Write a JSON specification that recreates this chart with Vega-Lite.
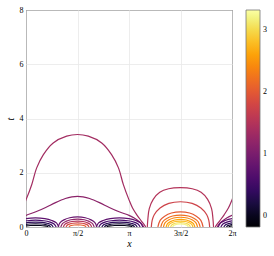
{
"$schema": "https://vega.github.io/schema/vega-lite/v6.json",
"width": 206, "height": 217,
"autosize": "none",
"padding": {"left": 26, "top": 10, "right": 42, "bottom": 29},
"background": "white",
"config": {"font": "Liberation Serif", "view": {"stroke": "black", "strokeWidth": 1}},
"data": {"values": [
{"c":"C1","v":1.35,"x":-0.51,"t":0},{"c":"C1","v":1.35,"x":-0.48,"t":0.06},{"c":"C1","v":1.35,"x":-0.38,"t":0.22},{"c":"C1","v":1.35,"x":-0.24,"t":0.45},{"c":"C1","v":1.35,"x":-0.11,"t":0.7},{"c":"C1","v":1.35,"x":0,"t":1.0},{"c":"C1","v":1.35,"x":0.174,"t":1.56},{"c":"C1","v":1.35,"x":0.326,"t":2.18},{"c":"C1","v":1.35,"x":0.53,"t":2.67},{"c":"C1","v":1.35,"x":0.83,"t":3.1},{"c":"C1","v":1.35,"x":1.24,"t":3.35},{"c":"C1","v":1.35,"x":1.571,"t":3.41},{"c":"C1","v":1.35,"x":1.9,"t":3.35},{"c":"C1","v":1.35,"x":2.31,"t":3.1},{"c":"C1","v":1.35,"x":2.61,"t":2.67},{"c":"C1","v":1.35,"x":2.82,"t":2.18},{"c":"C1","v":1.35,"x":2.97,"t":1.56},{"c":"C1","v":1.35,"x":3.142,"t":1.0},{"c":"C1","v":1.35,"x":3.25,"t":0.7},{"c":"C1","v":1.35,"x":3.38,"t":0.45},{"c":"C1","v":1.35,"x":3.52,"t":0.22},{"c":"C1","v":1.35,"x":3.62,"t":0.06},{"c":"C1","v":1.35,"x":3.65,"t":0},
{"c":"C1b","v":1.35,"x":5.773,"t":0},{"c":"C1b","v":1.35,"x":5.803,"t":0.06},{"c":"C1b","v":1.35,"x":5.903,"t":0.22},{"c":"C1b","v":1.35,"x":6.043,"t":0.45},{"c":"C1b","v":1.35,"x":6.173,"t":0.7},{"c":"C1b","v":1.35,"x":6.283,"t":1.0},{"c":"C1b","v":1.35,"x":6.457,"t":1.56},{"c":"C1b","v":1.35,"x":6.609,"t":2.18},
{"c":"C2","v":1.15,"x":-0.45,"t":0},{"c":"C2","v":1.15,"x":-0.41,"t":0.08},{"c":"C2","v":1.15,"x":-0.31,"t":0.2},{"c":"C2","v":1.15,"x":-0.16,"t":0.33},{"c":"C2","v":1.15,"x":0,"t":0.43},{"c":"C2","v":1.15,"x":0.3,"t":0.56},{"c":"C2","v":1.15,"x":0.6,"t":0.72},{"c":"C2","v":1.15,"x":0.9,"t":0.9},{"c":"C2","v":1.15,"x":1.2,"t":1.05},{"c":"C2","v":1.15,"x":1.4,"t":1.11},{"c":"C2","v":1.15,"x":1.571,"t":1.13},{"c":"C2","v":1.15,"x":1.74,"t":1.11},{"c":"C2","v":1.15,"x":1.94,"t":1.05},{"c":"C2","v":1.15,"x":2.24,"t":0.9},{"c":"C2","v":1.15,"x":2.54,"t":0.72},{"c":"C2","v":1.15,"x":2.84,"t":0.56},{"c":"C2","v":1.15,"x":3.142,"t":0.43},{"c":"C2","v":1.15,"x":3.3,"t":0.33},{"c":"C2","v":1.15,"x":3.45,"t":0.2},{"c":"C2","v":1.15,"x":3.55,"t":0.08},{"c":"C2","v":1.15,"x":3.59,"t":0},
{"c":"C2b","v":1.15,"x":5.833,"t":0},{"c":"C2b","v":1.15,"x":5.873,"t":0.08},{"c":"C2b","v":1.15,"x":5.973,"t":0.2},{"c":"C2b","v":1.15,"x":6.123,"t":0.33},{"c":"C2b","v":1.15,"x":6.283,"t":0.43},{"c":"C2b","v":1.15,"x":6.583,"t":0.56},
{"c":"K1a","v":0.75,"x":-0.42,"t":0},{"c":"K1a","v":0.75,"x":-0.349,"t":0.15},{"c":"K1a","v":0.75,"x":-0.207,"t":0.24},{"c":"K1a","v":0.75,"x":0.006,"t":0.31},{"c":"K1a","v":0.75,"x":0.29,"t":0.34},{"c":"K1a","v":0.75,"x":0.574,"t":0.31},{"c":"K1a","v":0.75,"x":0.787,"t":0.24},{"c":"K1a","v":0.75,"x":0.929,"t":0.15},{"c":"K1a","v":0.75,"x":1.0,"t":0},
{"c":"K1b","v":0.75,"x":3.562,"t":0},{"c":"K1b","v":0.75,"x":3.491,"t":0.15},{"c":"K1b","v":0.75,"x":3.349,"t":0.24},{"c":"K1b","v":0.75,"x":3.136,"t":0.31},{"c":"K1b","v":0.75,"x":2.852,"t":0.34},{"c":"K1b","v":0.75,"x":2.568,"t":0.31},{"c":"K1b","v":0.75,"x":2.355,"t":0.24},{"c":"K1b","v":0.75,"x":2.213,"t":0.15},{"c":"K1b","v":0.75,"x":2.142,"t":0},
{"c":"K1c","v":0.75,"x":5.863,"t":0},{"c":"K1c","v":0.75,"x":5.934,"t":0.15},{"c":"K1c","v":0.75,"x":6.076,"t":0.24},{"c":"K1c","v":0.75,"x":6.289,"t":0.31},{"c":"K1c","v":0.75,"x":6.573,"t":0.34},{"c":"K1c","v":0.75,"x":6.857,"t":0.31},
{"c":"K2a","v":0.55,"x":-0.34,"t":0},{"c":"K2a","v":0.55,"x":-0.277,"t":0.11},{"c":"K2a","v":0.55,"x":-0.151,"t":0.18},{"c":"K2a","v":0.55,"x":0.038,"t":0.23},{"c":"K2a","v":0.55,"x":0.29,"t":0.25},{"c":"K2a","v":0.55,"x":0.542,"t":0.23},{"c":"K2a","v":0.55,"x":0.731,"t":0.18},{"c":"K2a","v":0.55,"x":0.857,"t":0.11},{"c":"K2a","v":0.55,"x":0.92,"t":0},
{"c":"K2b","v":0.55,"x":3.482,"t":0},{"c":"K2b","v":0.55,"x":3.419,"t":0.11},{"c":"K2b","v":0.55,"x":3.293,"t":0.18},{"c":"K2b","v":0.55,"x":3.104,"t":0.23},{"c":"K2b","v":0.55,"x":2.852,"t":0.25},{"c":"K2b","v":0.55,"x":2.6,"t":0.23},{"c":"K2b","v":0.55,"x":2.411,"t":0.18},{"c":"K2b","v":0.55,"x":2.285,"t":0.11},{"c":"K2b","v":0.55,"x":2.222,"t":0},
{"c":"K2c","v":0.55,"x":5.943,"t":0},{"c":"K2c","v":0.55,"x":6.006,"t":0.11},{"c":"K2c","v":0.55,"x":6.132,"t":0.18},{"c":"K2c","v":0.55,"x":6.321,"t":0.23},{"c":"K2c","v":0.55,"x":6.573,"t":0.25},
{"c":"K3a","v":0.35,"x":-0.25,"t":0},{"c":"K3a","v":0.35,"x":-0.196,"t":0.08},{"c":"K3a","v":0.35,"x":-0.088,"t":0.13},{"c":"K3a","v":0.35,"x":0.074,"t":0.17},{"c":"K3a","v":0.35,"x":0.29,"t":0.18},{"c":"K3a","v":0.35,"x":0.506,"t":0.17},{"c":"K3a","v":0.35,"x":0.668,"t":0.13},{"c":"K3a","v":0.35,"x":0.776,"t":0.08},{"c":"K3a","v":0.35,"x":0.83,"t":0},
{"c":"K3b","v":0.35,"x":3.392,"t":0},{"c":"K3b","v":0.35,"x":3.338,"t":0.08},{"c":"K3b","v":0.35,"x":3.23,"t":0.13},{"c":"K3b","v":0.35,"x":3.068,"t":0.17},{"c":"K3b","v":0.35,"x":2.852,"t":0.18},{"c":"K3b","v":0.35,"x":2.636,"t":0.17},{"c":"K3b","v":0.35,"x":2.474,"t":0.13},{"c":"K3b","v":0.35,"x":2.366,"t":0.08},{"c":"K3b","v":0.35,"x":2.312,"t":0},
{"c":"K3c","v":0.35,"x":6.033,"t":0},{"c":"K3c","v":0.35,"x":6.087,"t":0.08},{"c":"K3c","v":0.35,"x":6.195,"t":0.13},{"c":"K3c","v":0.35,"x":6.357,"t":0.17},{"c":"K3c","v":0.35,"x":6.573,"t":0.18},
{"c":"K4a","v":0.15,"x":-0.17,"t":0},{"c":"K4a","v":0.15,"x":-0.124,"t":0.05},{"c":"K4a","v":0.15,"x":-0.032,"t":0.085},{"c":"K4a","v":0.15,"x":0.106,"t":0.11},{"c":"K4a","v":0.15,"x":0.29,"t":0.12},{"c":"K4a","v":0.15,"x":0.474,"t":0.11},{"c":"K4a","v":0.15,"x":0.612,"t":0.085},{"c":"K4a","v":0.15,"x":0.704,"t":0.05},{"c":"K4a","v":0.15,"x":0.75,"t":0},
{"c":"K4b","v":0.15,"x":3.312,"t":0},{"c":"K4b","v":0.15,"x":3.266,"t":0.05},{"c":"K4b","v":0.15,"x":3.174,"t":0.085},{"c":"K4b","v":0.15,"x":3.036,"t":0.11},{"c":"K4b","v":0.15,"x":2.852,"t":0.12},{"c":"K4b","v":0.15,"x":2.668,"t":0.11},{"c":"K4b","v":0.15,"x":2.53,"t":0.085},{"c":"K4b","v":0.15,"x":2.438,"t":0.05},{"c":"K4b","v":0.15,"x":2.392,"t":0},
{"c":"K4c","v":0.15,"x":6.113,"t":0},{"c":"K4c","v":0.15,"x":6.159,"t":0.05},{"c":"K4c","v":0.15,"x":6.251,"t":0.085},{"c":"K4c","v":0.15,"x":6.389,"t":0.11},{"c":"K4c","v":0.15,"x":6.573,"t":0.12},
{"c":"K5a","v":-0.05,"x":-0.1,"t":0},{"c":"K5a","v":-0.05,"x":-0.061,"t":0.026},{"c":"K5a","v":-0.05,"x":0.017,"t":0.043},{"c":"K5a","v":-0.05,"x":0.134,"t":0.055},{"c":"K5a","v":-0.05,"x":0.29,"t":0.06},{"c":"K5a","v":-0.05,"x":0.446,"t":0.055},{"c":"K5a","v":-0.05,"x":0.563,"t":0.043},{"c":"K5a","v":-0.05,"x":0.641,"t":0.026},{"c":"K5a","v":-0.05,"x":0.68,"t":0},
{"c":"K5b","v":-0.05,"x":3.242,"t":0},{"c":"K5b","v":-0.05,"x":3.203,"t":0.026},{"c":"K5b","v":-0.05,"x":3.125,"t":0.043},{"c":"K5b","v":-0.05,"x":3.008,"t":0.055},{"c":"K5b","v":-0.05,"x":2.852,"t":0.06},{"c":"K5b","v":-0.05,"x":2.696,"t":0.055},{"c":"K5b","v":-0.05,"x":2.579,"t":0.043},{"c":"K5b","v":-0.05,"x":2.501,"t":0.026},{"c":"K5b","v":-0.05,"x":2.462,"t":0},
{"c":"K5c","v":-0.05,"x":6.183,"t":0},{"c":"K5c","v":-0.05,"x":6.222,"t":0.026},{"c":"K5c","v":-0.05,"x":6.3,"t":0.043},{"c":"K5c","v":-0.05,"x":6.417,"t":0.055},{"c":"K5c","v":-0.05,"x":6.573,"t":0.06},
{"c":"P1","v":0.85,"x":0.981,"t":0},{"c":"P1","v":0.85,"x":1.04,"t":0.163},{"c":"P1","v":0.85,"x":1.158,"t":0.263},{"c":"P1","v":0.85,"x":1.335,"t":0.34},{"c":"P1","v":0.85,"x":1.571,"t":0.37},{"c":"P1","v":0.85,"x":1.807,"t":0.34},{"c":"P1","v":0.85,"x":1.984,"t":0.263},{"c":"P1","v":0.85,"x":2.102,"t":0.163},{"c":"P1","v":0.85,"x":2.161,"t":0},
{"c":"P2","v":1.2,"x":1.061,"t":0},{"c":"P2","v":1.2,"x":1.112,"t":0.128},{"c":"P2","v":1.2,"x":1.214,"t":0.206},{"c":"P2","v":1.2,"x":1.367,"t":0.267},{"c":"P2","v":1.2,"x":1.571,"t":0.29},{"c":"P2","v":1.2,"x":1.775,"t":0.267},{"c":"P2","v":1.2,"x":1.928,"t":0.206},{"c":"P2","v":1.2,"x":2.03,"t":0.128},{"c":"P2","v":1.2,"x":2.081,"t":0},
{"c":"P3","v":1.5,"x":1.141,"t":0},{"c":"P3","v":1.5,"x":1.184,"t":0.097},{"c":"P3","v":1.5,"x":1.27,"t":0.156},{"c":"P3","v":1.5,"x":1.399,"t":0.202},{"c":"P3","v":1.5,"x":1.571,"t":0.22},{"c":"P3","v":1.5,"x":1.743,"t":0.202},{"c":"P3","v":1.5,"x":1.872,"t":0.156},{"c":"P3","v":1.5,"x":1.958,"t":0.097},{"c":"P3","v":1.5,"x":2.001,"t":0},
{"c":"P4","v":1.8,"x":1.221,"t":0},{"c":"P4","v":1.8,"x":1.256,"t":0.066},{"c":"P4","v":1.8,"x":1.326,"t":0.107},{"c":"P4","v":1.8,"x":1.431,"t":0.138},{"c":"P4","v":1.8,"x":1.571,"t":0.15},{"c":"P4","v":1.8,"x":1.711,"t":0.138},{"c":"P4","v":1.8,"x":1.816,"t":0.107},{"c":"P4","v":1.8,"x":1.886,"t":0.066},{"c":"P4","v":1.8,"x":1.921,"t":0},
{"c":"P5","v":2.05,"x":1.311,"t":0},{"c":"P5","v":2.05,"x":1.337,"t":0.035},{"c":"P5","v":2.05,"x":1.389,"t":0.057},{"c":"P5","v":2.05,"x":1.467,"t":0.074},{"c":"P5","v":2.05,"x":1.571,"t":0.08},{"c":"P5","v":2.05,"x":1.675,"t":0.074},{"c":"P5","v":2.05,"x":1.753,"t":0.057},{"c":"P5","v":2.05,"x":1.805,"t":0.035},{"c":"P5","v":2.05,"x":1.831,"t":0},
{"c":"D1","v":1.5,"x":3.7,"t":0},{"c":"D1","v":1.5,"x":3.72,"t":0.33},{"c":"D1","v":1.5,"x":3.76,"t":0.68},{"c":"D1","v":1.5,"x":3.88,"t":1.02},{"c":"D1","v":1.5,"x":4.08,"t":1.28},{"c":"D1","v":1.5,"x":4.35,"t":1.41},{"c":"D1","v":1.5,"x":4.712,"t":1.45},{"c":"D1","v":1.5,"x":5.07,"t":1.41},{"c":"D1","v":1.5,"x":5.34,"t":1.28},{"c":"D1","v":1.5,"x":5.54,"t":1.02},{"c":"D1","v":1.5,"x":5.66,"t":0.68},{"c":"D1","v":1.5,"x":5.7,"t":0.33},{"c":"D1","v":1.5,"x":5.72,"t":0},
{"c":"D2","v":1.75,"x":3.822,"t":0},{"c":"D2","v":1.75,"x":3.85,"t":0.25},{"c":"D2","v":1.75,"x":3.911,"t":0.45},{"c":"D2","v":1.75,"x":4.089,"t":0.7},{"c":"D2","v":1.75,"x":4.356,"t":0.87},{"c":"D2","v":1.75,"x":4.712,"t":0.93},{"c":"D2","v":1.75,"x":5.068,"t":0.87},{"c":"D2","v":1.75,"x":5.335,"t":0.7},{"c":"D2","v":1.75,"x":5.513,"t":0.45},{"c":"D2","v":1.75,"x":5.574,"t":0.25},{"c":"D2","v":1.75,"x":5.602,"t":0},
{"c":"D3","v":2.0,"x":4.022,"t":0},{"c":"D3","v":2.0,"x":4.091,"t":0.246},{"c":"D3","v":2.0,"x":4.229,"t":0.398},{"c":"D3","v":2.0,"x":4.436,"t":0.515},{"c":"D3","v":2.0,"x":4.712,"t":0.56},{"c":"D3","v":2.0,"x":4.988,"t":0.515},{"c":"D3","v":2.0,"x":5.195,"t":0.398},{"c":"D3","v":2.0,"x":5.333,"t":0.246},{"c":"D3","v":2.0,"x":5.402,"t":0},
{"c":"D4","v":2.2,"x":4.112,"t":0},{"c":"D4","v":2.2,"x":4.172,"t":0.194},{"c":"D4","v":2.2,"x":4.292,"t":0.312},{"c":"D4","v":2.2,"x":4.472,"t":0.405},{"c":"D4","v":2.2,"x":4.712,"t":0.44},{"c":"D4","v":2.2,"x":4.952,"t":0.405},{"c":"D4","v":2.2,"x":5.132,"t":0.312},{"c":"D4","v":2.2,"x":5.252,"t":0.194},{"c":"D4","v":2.2,"x":5.312,"t":0},
{"c":"D5","v":2.4,"x":4.192,"t":0},{"c":"D5","v":2.4,"x":4.244,"t":0.158},{"c":"D5","v":2.4,"x":4.348,"t":0.256},{"c":"D5","v":2.4,"x":4.504,"t":0.331},{"c":"D5","v":2.4,"x":4.712,"t":0.36},{"c":"D5","v":2.4,"x":4.92,"t":0.331},{"c":"D5","v":2.4,"x":5.076,"t":0.256},{"c":"D5","v":2.4,"x":5.18,"t":0.158},{"c":"D5","v":2.4,"x":5.232,"t":0},
{"c":"D6","v":2.6,"x":4.272,"t":0},{"c":"D6","v":2.6,"x":4.316,"t":0.123},{"c":"D6","v":2.6,"x":4.404,"t":0.199},{"c":"D6","v":2.6,"x":4.536,"t":0.258},{"c":"D6","v":2.6,"x":4.712,"t":0.28},{"c":"D6","v":2.6,"x":4.888,"t":0.258},{"c":"D6","v":2.6,"x":5.02,"t":0.199},{"c":"D6","v":2.6,"x":5.108,"t":0.123},{"c":"D6","v":2.6,"x":5.152,"t":0},
{"c":"D7","v":2.8,"x":4.332,"t":0},{"c":"D7","v":2.8,"x":4.37,"t":0.097},{"c":"D7","v":2.8,"x":4.446,"t":0.156},{"c":"D7","v":2.8,"x":4.56,"t":0.202},{"c":"D7","v":2.8,"x":4.712,"t":0.22},{"c":"D7","v":2.8,"x":4.864,"t":0.202},{"c":"D7","v":2.8,"x":4.978,"t":0.156},{"c":"D7","v":2.8,"x":5.054,"t":0.097},{"c":"D7","v":2.8,"x":5.092,"t":0},
{"c":"D8","v":3.0,"x":4.412,"t":0},{"c":"D8","v":3.0,"x":4.442,"t":0.07},{"c":"D8","v":3.0,"x":4.502,"t":0.114},{"c":"D8","v":3.0,"x":4.592,"t":0.147},{"c":"D8","v":3.0,"x":4.712,"t":0.16},{"c":"D8","v":3.0,"x":4.832,"t":0.147},{"c":"D8","v":3.0,"x":4.922,"t":0.114},{"c":"D8","v":3.0,"x":4.982,"t":0.07},{"c":"D8","v":3.0,"x":5.012,"t":0},
{"c":"D9","v":3.2,"x":4.472,"t":0},{"c":"D9","v":3.2,"x":4.496,"t":0.048},{"c":"D9","v":3.2,"x":4.544,"t":0.078},{"c":"D9","v":3.2,"x":4.616,"t":0.101},{"c":"D9","v":3.2,"x":4.712,"t":0.11},{"c":"D9","v":3.2,"x":4.808,"t":0.101},{"c":"D9","v":3.2,"x":4.88,"t":0.078},{"c":"D9","v":3.2,"x":4.928,"t":0.048},{"c":"D9","v":3.2,"x":4.952,"t":0}
]},
"mark": {"type": "line", "interpolate": "catmull-rom", "clip": true, "strokeWidth": 1.2},
"encoding": {
  "x": {"field": "x", "type": "quantitative",
        "scale": {"domain": [0, 6.2832], "nice": false, "zero": false},
        "axis": {"values": [0, 1.5708, 3.1416, 4.7124, 6.2832],
                 "labelExpr": "datum.value < 0.1 ? '0' : datum.value < 2 ? 'π/2' : datum.value < 4 ? 'π' : datum.value < 5 ? '3π/2' : '2π'",
                 "title": "x", "titleFontStyle": "italic", "titleFontWeight": "normal", "titleFontSize": 10, "titlePadding": 1,
                 "labelFontSize": 8, "labelPadding": 2, "tickSize": 0, "domain": false,
                 "grid": true, "gridColor": "#e8e8e8", "gridWidth": 0.8, "labelColor": "black", "labelFlush": false}},
  "y": {"field": "t", "type": "quantitative",
        "scale": {"domain": [0, 8], "nice": false},
        "axis": {"values": [0, 2, 4, 6, 8], "title": "t", "titleFontStyle": "italic", "titleFontWeight": "normal", "titleFontSize": 10, "titlePadding": 4,
                 "labelFontSize": 8, "labelPadding": 3, "tickSize": 0, "domain": false,
                 "grid": true, "gridColor": "#e8e8e8", "gridWidth": 0.8, "labelColor": "black", "labelFlush": false}},
  "color": {"field": "v", "type": "quantitative",
            "scale": {"scheme": "inferno", "domain": [-0.18, 3.32]},
            "legend": {"type": "gradient", "direction": "vertical", "orient": "right", "offset": 14, "padding": 0,
                       "title": null, "gradientLength": 217, "gradientThickness": 14,
                       "gradientStrokeColor": "#777", "gradientStrokeWidth": 0.8,
                       "values": [0, 1, 2, 3], "labelFontSize": 8, "labelOffset": 3, "labelOverlap": false, "labelColor": "black"}},
  "detail": {"field": "c"}
}
}
